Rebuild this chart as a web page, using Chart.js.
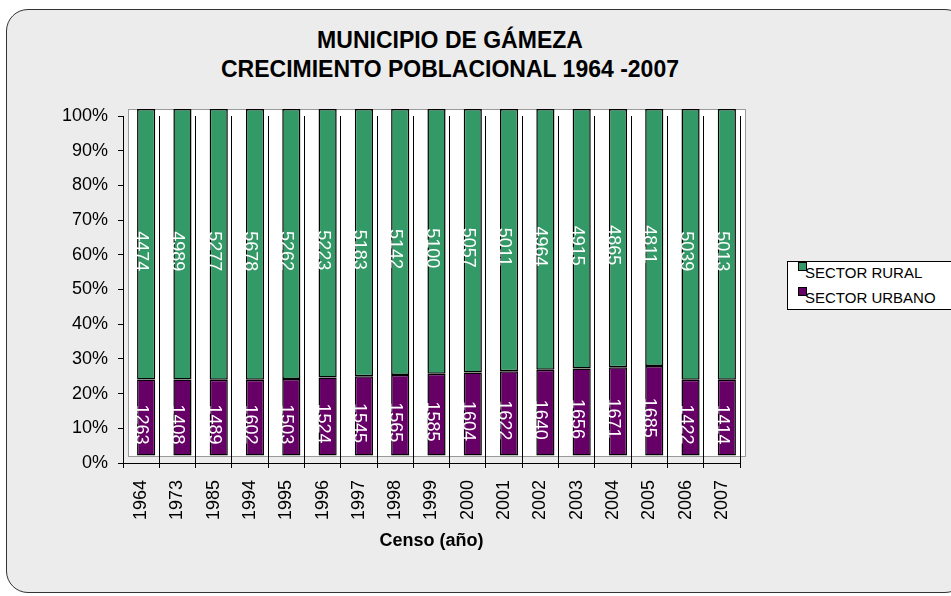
<!DOCTYPE html>
<html>
<head>
<meta charset="utf-8">
<script src="https://cdn.jsdelivr.net/npm/chart.js@4/dist/chart.umd.min.js"></script>
<style>
    html, body { margin: 0; padding: 0; background: #fff; }
    body { width: 951px; height: 596px; position: relative; overflow: hidden; font-family: "Liberation Sans", Arial, sans-serif; }
    .frame {
        position: absolute; left: 6px; top: 9px; width: 959px; height: 582px;
        border: 1.5px solid #333; border-radius: 22px;
        background-color: #ececec;
    }
    .title {
        position: absolute; left: 100px; width: 700px; text-align: center;
        font-weight: bold; font-size: 23px; color: #000; line-height: 29px; top: 26px;
    }
    .legend {
        position: absolute; left: 787px; top: 261px; width: 175px; height: 47px;
        border: 1px solid #000; background: #fff;
    }
    .legend .item { position: absolute; left: 17px; font-size: 15px; color: #000; white-space: nowrap; }
    .legend .box { position: absolute; left: -7px; top: -2px; width: 7px; height: 7px; border: 1px solid #000; }
    canvas { position: absolute; left: 0; top: 0; }
</style>
</head>
<body>
<div class="frame"></div>
<div class="title">MUNICIPIO DE GÁMEZA<br>CRECIMIENTO POBLACIONAL 1964 -2007</div>
<div class="legend" id="legend"></div>
<canvas id="chart" width="951" height="596"></canvas>
<script>
const years = ['1964', '1973', '1985', '1994', '1995', '1996', '1997', '1998', '1999',
    '2000', '2001', '2002', '2003', '2004', '2005', '2006', '2007'];
const rural = [4474, 4989, 5277, 5678, 5262, 5223, 5183, 5142, 5100, 5057, 5011, 4964, 4915, 4865, 4811, 5039, 5013];
const urbano = [1263, 1408, 1489, 1602, 1503, 1524, 1545, 1565, 1585, 1604, 1622, 1640, 1656, 1671, 1685, 1422, 1414];
const yTicks = [0, 10, 20, 30, 40, 50, 60, 70, 80, 90, 100];

const totals = years.map((y, i) => rural[i] + urbano[i]);
const pct = (arr) => arr.map((v, i) => v / totals[i] * 100);

// 3D look: bars and wall sit a little up and right of the axes
const DX = 5, DY = -7;

const depth = {
    id: 'depth',
    beforeDraw(chart) {
        const { ctx, chartArea: a } = chart;
        ctx.save();
        ctx.fillStyle = '#fff';
        ctx.fillRect(a.left + DX, a.top + DY, a.width, a.height);
        ctx.strokeStyle = '#999';
        ctx.lineWidth = 1;
        ctx.strokeRect(a.left + DX + 0.5, a.top + DY + 0.5, a.width, a.height);
        ctx.restore();
    },
    beforeDatasetsDraw(chart) {
        chart.ctx.save();
        chart.ctx.translate(DX, DY);
    },
    afterDatasetsDraw(chart) {
        const ctx = chart.ctx;
        ctx.restore();
        // value labels, rotated, in white
        ctx.save();
        ctx.fillStyle = '#fff';
        ctx.font = '18px "Liberation Sans", Arial, sans-serif';
        ctx.textAlign = 'center';
        ctx.textBaseline = 'middle';
        chart.data.datasets.forEach((ds, di) => {
            chart.getDatasetMeta(di).data.forEach((el, i) => {
                ctx.save();
                ctx.translate(el.x, (el.y + el.base) / 2);
                ctx.rotate(Math.PI / 2);
                ctx.fillText(String(ds.raw[i]), 0, 0);
                ctx.restore();
            });
        });
        ctx.restore();
    }
};

const datasets = [
    { label: 'SECTOR URBANO', raw: urbano, data: pct(urbano), backgroundColor: '#660066' },
    { label: 'SECTOR RURAL', raw: rural, data: pct(rural), backgroundColor: '#339966' }
];

new Chart(document.getElementById('chart'), {
    type: 'bar',
    data: {
        labels: years,
        datasets: datasets.map(d => Object.assign({
            borderColor: '#000', borderWidth: 1.5, borderSkipped: false,
            barPercentage: 0.5, categoryPercentage: 1, clip: false
        }, d))
    },
    options: {
        responsive: false,
        animation: false,
        layout: { padding: { left: 0, top: 116, right: 211, bottom: 36 } },
        plugins: { legend: { display: false }, title: { display: false }, tooltip: { enabled: false } },
        scales: {
            x: {
                stacked: true,
                afterFit: (s) => { s.height = 97; },
                border: { color: '#000', width: 1 },
                grid: { offset: true, color: '#000', lineWidth: 1, tickLength: 5 },
                ticks: {
                    color: '#000', padding: 12, minRotation: 90, maxRotation: 90,
                    font: { family: '"Liberation Sans", Arial, sans-serif', size: 18 }
                },
                title: {
                    display: true, text: 'Censo (año)', color: '#000',
                    padding: { top: 0, bottom: 8 },
                    font: { family: '"Liberation Sans", Arial, sans-serif', size: 18, weight: 'bold' }
                }
            },
            y: {
                stacked: true, min: 0, max: 100,
                afterFit: (s) => { s.width = 123; },
                afterBuildTicks: (s) => { s.ticks = yTicks.map(v => ({ value: v })); },
                border: { color: '#000', width: 1 },
                grid: { drawOnChartArea: false, color: '#000', tickLength: 5 },
                ticks: {
                    color: '#000', padding: 10,
                    callback: (v) => v + '%',
                    font: { family: '"Liberation Sans", Arial, sans-serif', size: 18 }
                }
            }
        }
    },
    plugins: [depth]
});

// legend, rural first as in the original
const legend = document.getElementById('legend');
[datasets[1], datasets[0]].forEach((d, i) => {
    const item = document.createElement('div');
    item.className = 'item';
    item.style.top = (2 + i * 25) + 'px';
    item.innerHTML = '<span class="box" style="background:' + d.backgroundColor + '"></span>' + d.label;
    legend.appendChild(item);
});
</script>
</body>
</html>
